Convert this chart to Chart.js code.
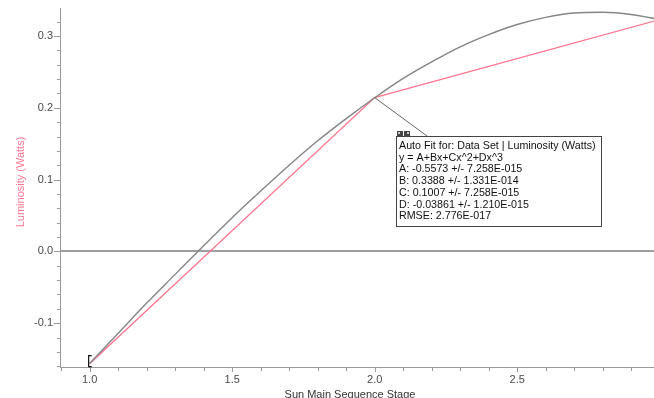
<!DOCTYPE html>
<html>
<head>
<meta charset="utf-8">
<script src="https://cdn.jsdelivr.net/npm/chart.js@4/dist/chart.umd.min.js"></script>
<style>
  html, body { margin: 0; padding: 0; background: #fff; }
  #wrap { width: 654px; height: 398px; }
</style>
</head>
<body>
<div id="wrap"><canvas id="lum"></canvas></div>
<script>
// data
const stages = [1, 2, 3];
const luminosity = [-0.1564, 0.2142, 0.3229];

// fitted curve, read along x every 0.1
const fitX = [1.0, 1.1, 1.2, 1.3, 1.4, 1.5, 1.6, 1.7, 1.8, 1.9, 2.0,
              2.1, 2.2, 2.3, 2.4, 2.5, 2.6, 2.7, 2.8, 2.9, 3.0];
const fitY = [-0.156, -0.114, -0.072, -0.032, 0.008, 0.047, 0.084, 0.120, 0.154, 0.185, 0.214,
              0.241, 0.264, 0.285, 0.302, 0.316, 0.326, 0.332, 0.333, 0.330, 0.323];

// tick positions (minor + major) and the labelled ones
const xTicks = [0.9, 1.0, 1.1, 1.2, 1.3, 1.4, 1.5, 1.6, 1.7, 1.8, 1.9,
                2.0, 2.1, 2.2, 2.3, 2.4, 2.5, 2.6, 2.7, 2.8, 2.9];
const yTicks = [-0.16, -0.14, -0.12, -0.10, -0.08, -0.06, -0.04, -0.02, 0.00,
                0.02, 0.04, 0.06, 0.08, 0.10, 0.12, 0.14, 0.16, 0.18, 0.20,
                0.22, 0.24, 0.26, 0.28, 0.30, 0.32];
const xLabels = [1.0, 1.5, 2.0, 2.5];
const yLabels = [-0.1, 0.0, 0.1, 0.2, 0.3];

const fitText = [
    'Auto Fit for: Data Set | Luminosity (Watts)',
    'y = A+Bx+Cx^2+Dx^3',
    'A: -0.5573 +/- 7.258E-015',
    'B: 0.3388 +/- 1.331E-014',
    'C: 0.1007 +/- 7.258E-015',
    'D: -0.03861 +/- 1.210E-015',
    'RMSE: 2.776E-017'
];

const PINK = 'rgb(255,118,146)';
const FONT = 'Arial, "Liberation Sans", sans-serif';

function isLabel(v, list) {
    return list.some(l => Math.abs(l - v) < 1e-6);
}

// axis lines, tick marks, zero line, error bar, titles and the fit box
const extras = {
    id: 'extras',
    beforeDatasetsDraw(chart) {
        const { ctx, chartArea: a, scales: { y } } = chart;
        ctx.save();
        const y0 = Math.round(y.getPixelForValue(0));
        ctx.strokeStyle = '#7e7e7e';
        ctx.lineWidth = 1.5;
        ctx.beginPath();
        ctx.moveTo(a.left, y0);
        ctx.lineTo(a.right, y0);
        ctx.stroke();
        ctx.restore();
    },
    afterDraw(chart) {
        const { ctx, chartArea: a, scales: { x, y } } = chart;
        ctx.save();
        ctx.strokeStyle = '#9a9a9a';
        ctx.lineWidth = 1;
        ctx.beginPath();
        ctx.moveTo(a.left + 0.5, a.top);
        ctx.lineTo(a.left + 0.5, a.bottom + 1);
        ctx.moveTo(a.left, a.bottom + 0.5);
        ctx.lineTo(a.right, a.bottom + 0.5);
        ctx.stroke();
        ctx.beginPath();
        y.ticks.forEach(t => {
            const p = Math.round(y.getPixelForValue(t.value)) + 0.5;
            const len = isLabel(t.value, yLabels) ? 6 : 3;
            ctx.moveTo(a.left - len, p);
            ctx.lineTo(a.left, p);
        });
        x.ticks.forEach(t => {
            const p = Math.round(x.getPixelForValue(t.value)) + 0.5;
            const len = isLabel(t.value, xLabels) ? 5 : 4;
            ctx.moveTo(p, a.bottom);
            ctx.lineTo(p, a.bottom + len);
        });
        ctx.stroke();

        // error bar bracket on the first point
        const ex = x.getPixelForValue(stages[0]);
        const ey = y.getPixelForValue(luminosity[0]);
        ctx.strokeStyle = '#111';
        ctx.lineWidth = 1.2;
        ctx.beginPath();
        ctx.moveTo(ex + 2, ey - 8);
        ctx.lineTo(ex - 1, ey - 8);
        ctx.lineTo(ex - 1, ey + 3);
        ctx.lineTo(ex + 2, ey + 3);
        ctx.stroke();

        // axis titles
        ctx.fillStyle = PINK;
        ctx.font = '11px ' + FONT;
        ctx.textAlign = 'center';
        ctx.textBaseline = 'middle';
        ctx.save();
        ctx.translate(21, 182);
        ctx.rotate(-Math.PI / 2);
        ctx.fillText('Luminosity (Watts)', 0, 0);
        ctx.restore();
        ctx.fillStyle = '#333';
        ctx.fillText('Sun Main Sequence Stage', 350, 395);

        // leader line from the data point to the box
        const px = x.getPixelForValue(stages[1]);
        const py = y.getPixelForValue(luminosity[1]);
        const bx = 396, by = 136, bw = 205, bh = 90;
        ctx.strokeStyle = '#666';
        ctx.lineWidth = 1;
        ctx.beginPath();
        ctx.moveTo(px, py);
        ctx.lineTo(427, by);
        ctx.stroke();

        // fit box
        ctx.fillStyle = '#fff';
        ctx.fillRect(bx, by, bw, bh);
        ctx.strokeStyle = '#444';
        ctx.strokeRect(bx + 0.5, by + 0.5, bw, bh);
        ctx.fillStyle = '#444';
        ctx.fillRect(bx + 1, by - 5, 6, 6);
        ctx.fillRect(bx + 8, by - 5, 6, 6);
        ctx.fillStyle = '#ccc';
        ctx.fillRect(bx + 2, by - 4, 2, 2);
        ctx.fillRect(bx + 11, by - 4, 2, 2);

        ctx.fillStyle = '#111';
        ctx.font = '10.7px ' + FONT;
        ctx.textAlign = 'left';
        ctx.textBaseline = 'alphabetic';
        fitText.forEach((line, i) => {
            ctx.fillText(line, bx + 3, by + 13 + i * 11.7);
        });
        ctx.restore();
    }
};

const ctx = document.getElementById('lum').getContext('2d');
const lumChart = new Chart(ctx, {
    type: 'line',
    data: {
        datasets: [{
            label: 'Fit',
            data: fitX.map((v, i) => ({ x: v, y: fitY[i] })),
            borderColor: '#858585',
            borderWidth: 1.4,
            pointRadius: 0,
            cubicInterpolationMode: 'monotone'
        }, {
            label: 'Luminosity (Watts)',
            data: stages.map((v, i) => ({ x: v, y: luminosity[i] })),
            borderColor: PINK,
            borderWidth: 1.4,
            pointRadius: 0,
            tension: 0
        }]
    },
    options: {
        responsive: true,
        maintainAspectRatio: false,
        animation: false,
        layout: { padding: { top: 8, left: 0, right: 0, bottom: 0 } },
        plugins: {
            legend: { display: false },
            tooltip: { enabled: false }
        },
        scales: {
            x: {
                type: 'linear',
                min: 0.896,
                max: 2.98,
                border: { display: false },
                grid: { display: false, drawTicks: false },
                afterBuildTicks: s => { s.ticks = xTicks.map(v => ({ value: v })); },
                ticks: {
                    autoSkip: false,
                    maxRotation: 0,
                    padding: 6,
                    color: '#4a4a4a',
                    font: { size: 11, family: FONT },
                    callback: v => isLabel(v, xLabels) ? v.toFixed(1) : ''
                },
                afterFit: s => {
                    s.height = 31;
                    s.paddingLeft = 0;
                    s.paddingRight = 0;
                }
            },
            y: {
                type: 'linear',
                min: -0.161,
                max: 0.339,
                border: { display: false },
                grid: { display: false, drawTicks: false },
                afterBuildTicks: s => { s.ticks = yTicks.map(v => ({ value: v })); },
                ticks: {
                    autoSkip: false,
                    padding: 7,
                    color: '#4a4a4a',
                    font: { size: 11, family: FONT },
                    callback: v => isLabel(v, yLabels) ? v.toFixed(1) : ''
                },
                afterFit: s => {
                    s.width = 60;
                    s.paddingTop = 0;
                    s.paddingBottom = 0;
                }
            }
        }
    },
    plugins: [extras]
});
</script>
</body>
</html>
